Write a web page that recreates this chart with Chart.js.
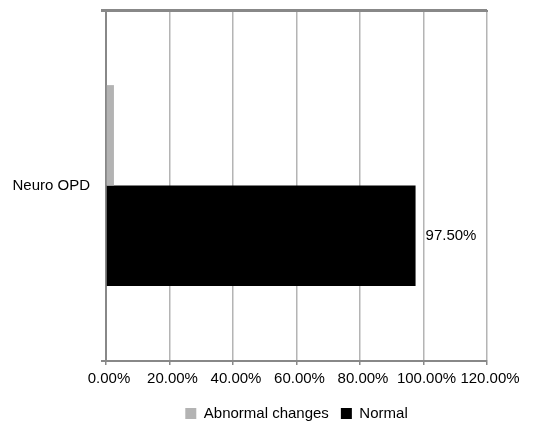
<!DOCTYPE html>
<html>
<head>
<meta charset="utf-8">
<script src="https://cdn.jsdelivr.net/npm/chart.js@4"></script>
<style>
  html, body { margin: 0; padding: 0; background: #fff; }
  #wrap { width: 534px; height: 422px; }
</style>
</head>
<body>
<div id="wrap"><canvas id="chart" width="534" height="422"></canvas></div>
<script>
// values
const categories = ["Neuro OPD"];
const abnormal = [2.5];
const normal = [97.5];
const xTicks = [0, 20, 40, 60, 80, 100, 120];

Chart.defaults.font.family = "'Liberation Sans', Arial, sans-serif";
Chart.defaults.font.size = 15;
Chart.defaults.color = "#000";

// label at the end of the Normal bar
const endLabel = {
  id: "endLabel",
  afterDatasetsDraw(chart) {
    const ctx = chart.ctx;
    const meta = chart.getDatasetMeta(1);
    ctx.save();
    ctx.font = "15px 'Liberation Sans', Arial, sans-serif";
    ctx.fillStyle = "#000";
    ctx.textBaseline = "middle";
    meta.data.forEach((bar, i) => {
      ctx.fillText(normal[i].toFixed(2) + "%", bar.x + 10, bar.y);
    });
    ctx.restore();
  },
  // top edge of the plot area
  afterDraw(chart) {
    const ctx = chart.ctx;
    const area = chart.chartArea;
    ctx.save();
    ctx.strokeStyle = "#888";
    ctx.lineWidth = 2;
    ctx.beginPath();
    ctx.moveTo(area.left - 5, area.top + 1);
    ctx.lineTo(area.right + 1, area.top + 1);
    ctx.stroke();
    ctx.restore();
  }
};

// keep the legend block short so it sits close to the axis
const legendHeight = {
  id: "legendHeight",
  beforeInit(chart) {
    const fit = chart.legend.fit;
    chart.legend.fit = function () {
      fit.call(this);
      this.height = 28;
    };
  }
};

new Chart(document.getElementById("chart"), {
  type: "bar",
  data: {
    labels: categories,
    datasets: [
      {
        label: "Abnormal changes",
        data: abnormal,
        backgroundColor: "#b3b3b3",
        categoryPercentage: 0.572,
        barPercentage: 1.0
      },
      {
        label: "Normal",
        data: normal,
        backgroundColor: "#000",
        categoryPercentage: 0.572,
        barPercentage: 1.0
      }
    ]
  },
  options: {
    indexAxis: "y",
    responsive: false,
    animation: false,
    layout: { padding: { top: 10, right: 47, left: 0, bottom: 0 } },
    scales: {
      x: {
        min: 0,
        max: 120,
        afterBuildTicks(axis) {
          axis.ticks = xTicks.map(v => ({ value: v }));
        },
        afterFit(axis) { axis.height = 33; },
        ticks: {
          callback: v => v.toFixed(2) + "%",
          padding: 5,
          labelOffset: 3,
          maxRotation: 0,
          autoSkip: false
        },
        grid: { color: "#b4b4b4", lineWidth: 1.5, tickLength: 4, tickColor: "#888" },
        border: { color: "#888", width: 2 }
      },
      y: {
        afterFit(axis) {
          axis.width = 106;
          axis.paddingTop = 0;
          axis.paddingBottom = 0;
        },
        ticks: { padding: 11 },
        grid: { color: "#888", lineWidth: 2, tickLength: 5 },
        border: { color: "#888", width: 2 }
      }
    },
    plugins: {
      legend: {
        position: "bottom",
        fullSize: false,
        labels: { boxWidth: 11, boxHeight: 11, padding: 12 }
      },
      tooltip: { enabled: false }
    }
  },
  plugins: [endLabel, legendHeight]
});
</script>
</body>
</html>
